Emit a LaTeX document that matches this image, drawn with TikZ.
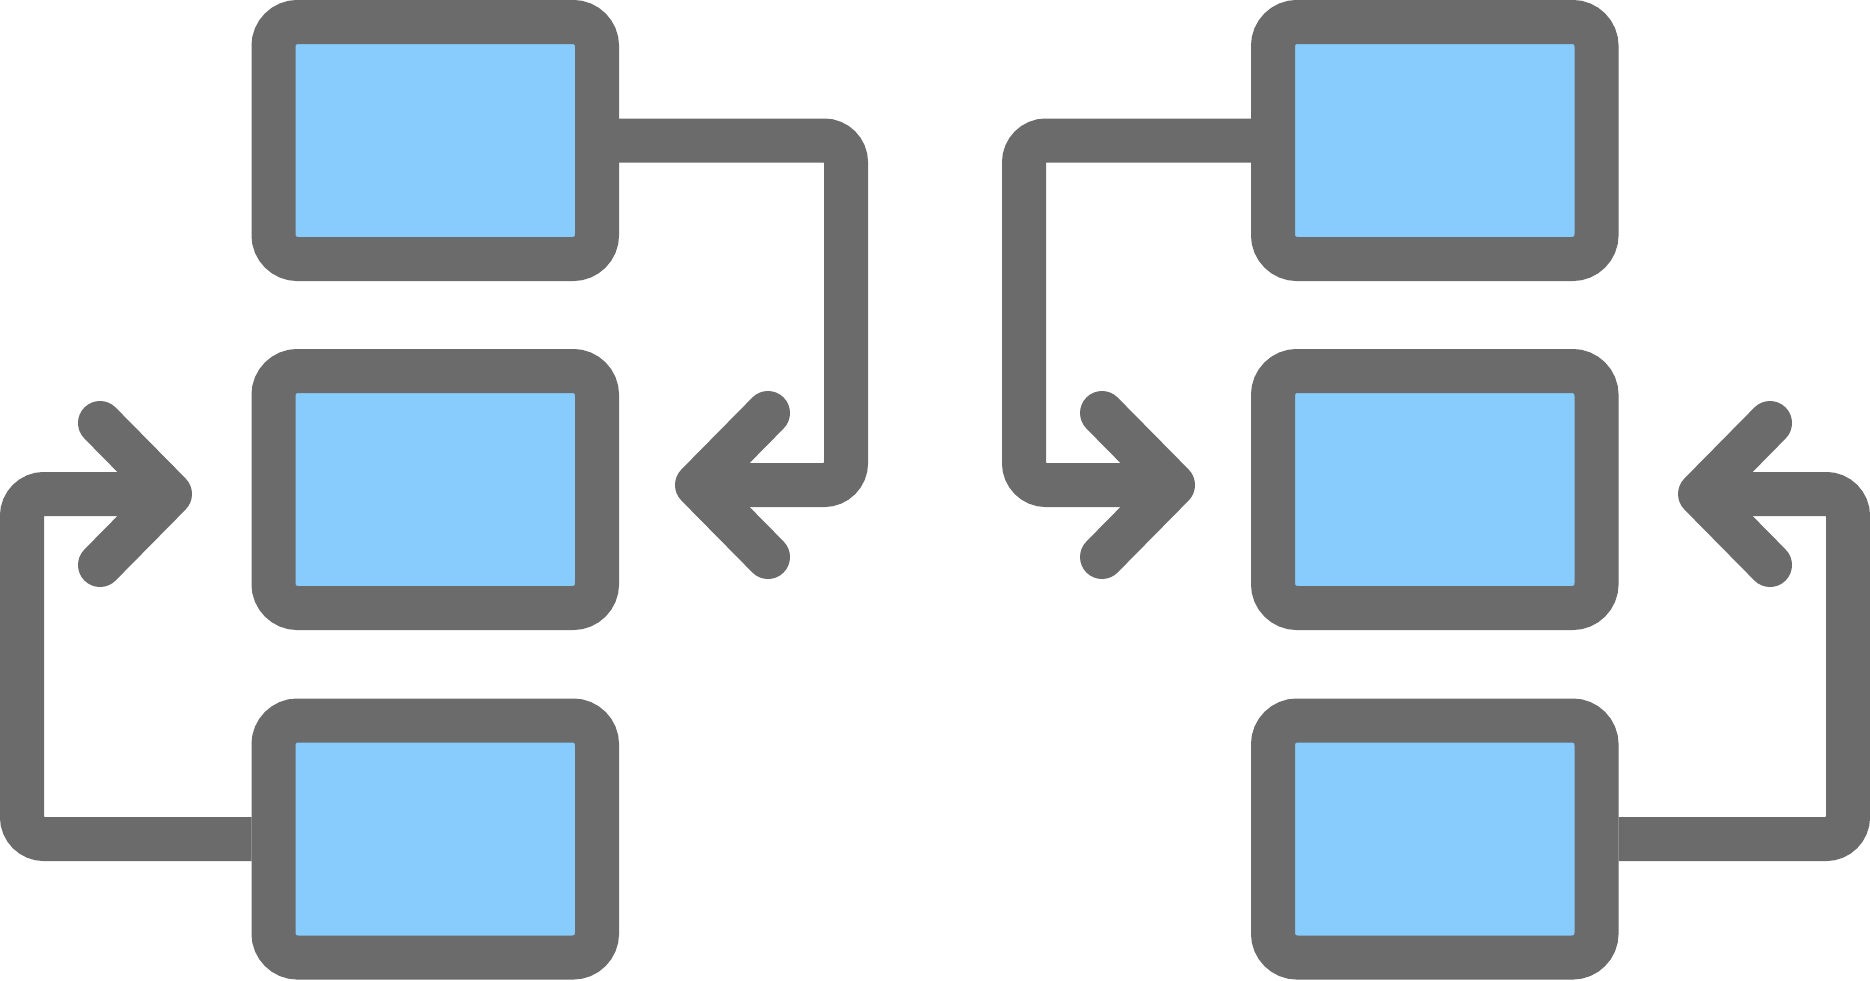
\documentclass[tikz,border=0pt]{standalone}
\usepackage{tikz}
\definecolor{iconGray}{RGB}{107,107,107}
\definecolor{iconBlue}{RGB}{135,204,252}
\tikzset{
  box/.style={draw=iconGray, fill=iconBlue, line width=44pt, rounded corners=24pt,
    minimum width=323.5pt, minimum height=237pt, inner sep=0pt, rectangle},
  conn/.style={draw=iconGray, line width=44pt, rounded corners=22pt, line cap=butt},
  chev/.style={draw=iconGray, line width=44pt, line cap=round, line join=round}
}
\begin{document}
\begin{tikzpicture}[x=1pt,y=-1pt]
\useasboundingbox[fill=white] (0,0) rectangle (1870,980);
% left column
\node[box] (b1) at (435.25,140.5) {};
\node[box] (b2) at (435.25,489.5) {};
\node[box] (b3) at (435.25,839) {};
% right column
\node[box] (b4) at (1434.75,140.5) {};
\node[box] (b5) at (1434.75,489.5) {};
\node[box] (b6) at (1434.75,839) {};
% arrow tips
\coordinate (t1) at (697,485);
\coordinate (t2) at (170,494);
\coordinate (t3) at (1173,485);
\coordinate (t4) at (1700,494);
% connectors
\draw[conn] (b1.east) -- (846,140.5) -- (846,485) -- (t1);
\draw[conn] (b3.west) -- (22,839) -- (22,494) -- (t2);
\draw[conn] (b4.west) -- (1024,140.5) -- (1024,485) -- (t3);
\draw[conn] (b6.east) -- (1848,839) -- (1848,494) -- (t4);
% arrow heads
\draw[chev] (768,413) -- (t1) -- (768,557);
\draw[chev] (100,423) -- (t2) -- (100,565);
\draw[chev] (1102,413) -- (t3) -- (1102,557);
\draw[chev] (1770,423) -- (t4) -- (1770,565);
\end{tikzpicture}
\end{document}
